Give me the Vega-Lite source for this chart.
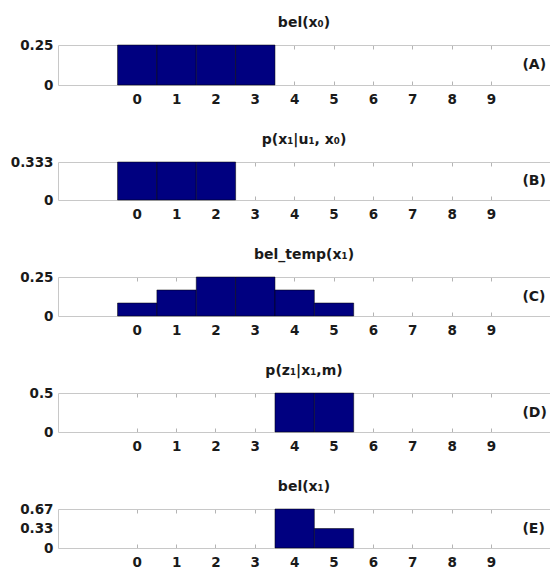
{
  "$schema": "https://vega.github.io/schema/vega-lite/v6.json",
  "padding": {"left": 0, "top": 16, "right": 0, "bottom": 0},
  "autosize": {"type": "pad"},
  "background": "white",
  "config": {
    "view": {"stroke": null},
    "font": "DejaVu Sans",
    "axis": {"domainColor": "#c8c8c8", "tickColor": "#b4b4b4", "labelColor": "#1a1a1a", "labelFont": "DejaVu Sans", "labelFontSize": 13.5, "labelFontWeight": "bold", "grid": false, "title": null, "labelOverlap": false},
    "title": {"font": "DejaVu Sans", "fontSize": 14, "fontWeight": "bold", "color": "#1a1a1a", "offset": 8},
    "bar": {"binSpacing": 0},
    "concat": {"spacing": 22}
  },
  "datasets": {
    "A": [{"x": 0, "p": 0.25}, {"x": 1, "p": 0.25}, {"x": 2, "p": 0.25}, {"x": 3, "p": 0.25}],
    "B": [{"x": 0, "p": 0.3333}, {"x": 1, "p": 0.3333}, {"x": 2, "p": 0.3333}],
    "C": [{"x": 0, "p": 0.0833}, {"x": 1, "p": 0.1667}, {"x": 2, "p": 0.25}, {"x": 3, "p": 0.25}, {"x": 4, "p": 0.1667}, {"x": 5, "p": 0.0833}],
    "D": [{"x": 4, "p": 0.5}, {"x": 5, "p": 0.5}],
    "E": [{"x": 4, "p": 0.6667}, {"x": 5, "p": 0.3333}]
  },
  "vconcat": [
    {
      "title": "bel(x₀)",
      "width": 492, "height": 40,
      "resolve": {"axis": {"x": "independent", "y": "independent"}},
      "layer": [
        {
          "data": {"name": "A"},
          "mark": {"type": "bar", "color": "#000080", "stroke": "#000000", "strokeWidth": 0.5, "binSpacing": 0},
          "encoding": {
            "x": {"field": "x", "bin": {"extent": [-0.5, 9.5], "step": 1, "nice": false}, "type": "quantitative", "scale": {"domain": [-2, 10.5], "nice": false, "zero": false}, "axis": {"values": [0,1,2,3,4,5,6,7,8,9], "format": "d", "tickSize": -4, "labelPadding": 11, "minExtent": 26, "maxExtent": 26}},
            "y": {"field": "p", "aggregate": "sum", "type": "quantitative", "scale": {"domain": [0, 0.25], "nice": false}, "axis": {"values": [0, 0.25], "format": ".2~f", "ticks": false, "labelPadding": 5, "minExtent": 58, "maxExtent": 58}}
          }
        },
        {
          "data": {"values": [{"label": "(A)", "lx": 9.8, "ly": 0.125}]},
          "mark": {"type": "text", "align": "left", "baseline": "middle", "fontSize": 14, "fontWeight": "bold", "color": "#1a1a1a"},
          "encoding": {
            "x": {"field": "lx", "type": "quantitative", "axis": {"orient": "top", "values": [0,1,2,3,4,5,6,7,8,9], "labels": false, "tickSize": -4, "minExtent": 0, "maxExtent": 0}},
            "y": {"field": "ly", "type": "quantitative", "axis": null},
            "text": {"field": "label"}
          }
        }
      ]
    },
    {
      "title": "p(x₁|u₁, x₀)",
      "width": 492, "height": 38,
      "resolve": {"axis": {"x": "independent", "y": "independent"}},
      "layer": [
        {
          "data": {"name": "B"},
          "mark": {"type": "bar", "color": "#000080", "stroke": "#000000", "strokeWidth": 0.5, "binSpacing": 0},
          "encoding": {
            "x": {"field": "x", "bin": {"extent": [-0.5, 9.5], "step": 1, "nice": false}, "type": "quantitative", "scale": {"domain": [-2, 10.5], "nice": false, "zero": false}, "axis": {"values": [0,1,2,3,4,5,6,7,8,9], "format": "d", "tickSize": -4, "labelPadding": 11, "minExtent": 26, "maxExtent": 26}},
            "y": {"field": "p", "aggregate": "sum", "type": "quantitative", "scale": {"domain": [0, 0.3333], "nice": false}, "axis": {"values": [0, 0.3333], "format": ".3~f", "ticks": false, "labelPadding": 5, "minExtent": 58, "maxExtent": 58}}
          }
        },
        {
          "data": {"values": [{"label": "(B)", "lx": 9.8, "ly": 0.1667}]},
          "mark": {"type": "text", "align": "left", "baseline": "middle", "fontSize": 14, "fontWeight": "bold", "color": "#1a1a1a"},
          "encoding": {
            "x": {"field": "lx", "type": "quantitative", "axis": {"orient": "top", "values": [0,1,2,3,4,5,6,7,8,9], "labels": false, "tickSize": -4, "minExtent": 0, "maxExtent": 0}},
            "y": {"field": "ly", "type": "quantitative", "axis": null},
            "text": {"field": "label"}
          }
        }
      ]
    },
    {
      "title": "bel_temp(x₁)",
      "width": 492, "height": 39,
      "resolve": {"axis": {"x": "independent", "y": "independent"}},
      "layer": [
        {
          "data": {"name": "C"},
          "mark": {"type": "bar", "color": "#000080", "stroke": "#000000", "strokeWidth": 0.5, "binSpacing": 0},
          "encoding": {
            "x": {"field": "x", "bin": {"extent": [-0.5, 9.5], "step": 1, "nice": false}, "type": "quantitative", "scale": {"domain": [-2, 10.5], "nice": false, "zero": false}, "axis": {"values": [0,1,2,3,4,5,6,7,8,9], "format": "d", "tickSize": -4, "labelPadding": 11, "minExtent": 26, "maxExtent": 26}},
            "y": {"field": "p", "aggregate": "sum", "type": "quantitative", "scale": {"domain": [0, 0.25], "nice": false}, "axis": {"values": [0, 0.25], "format": ".2~f", "ticks": false, "labelPadding": 5, "minExtent": 58, "maxExtent": 58}}
          }
        },
        {
          "data": {"values": [{"label": "(C)", "lx": 9.8, "ly": 0.125}]},
          "mark": {"type": "text", "align": "left", "baseline": "middle", "fontSize": 14, "fontWeight": "bold", "color": "#1a1a1a"},
          "encoding": {
            "x": {"field": "lx", "type": "quantitative", "axis": {"orient": "top", "values": [0,1,2,3,4,5,6,7,8,9], "labels": false, "tickSize": -4, "minExtent": 0, "maxExtent": 0}},
            "y": {"field": "ly", "type": "quantitative", "axis": null},
            "text": {"field": "label"}
          }
        }
      ]
    },
    {
      "title": "p(z₁|x₁,m)",
      "width": 492, "height": 39,
      "resolve": {"axis": {"x": "independent", "y": "independent"}},
      "layer": [
        {
          "data": {"name": "D"},
          "mark": {"type": "bar", "color": "#000080", "stroke": "#000000", "strokeWidth": 0.5, "binSpacing": 0},
          "encoding": {
            "x": {"field": "x", "bin": {"extent": [-0.5, 9.5], "step": 1, "nice": false}, "type": "quantitative", "scale": {"domain": [-2, 10.5], "nice": false, "zero": false}, "axis": {"values": [0,1,2,3,4,5,6,7,8,9], "format": "d", "tickSize": -4, "labelPadding": 11, "minExtent": 26, "maxExtent": 26}},
            "y": {"field": "p", "aggregate": "sum", "type": "quantitative", "scale": {"domain": [0, 0.5], "nice": false}, "axis": {"values": [0, 0.5], "format": ".1~f", "ticks": false, "labelPadding": 5, "minExtent": 58, "maxExtent": 58}}
          }
        },
        {
          "data": {"values": [{"label": "(D)", "lx": 9.8, "ly": 0.25}]},
          "mark": {"type": "text", "align": "left", "baseline": "middle", "fontSize": 14, "fontWeight": "bold", "color": "#1a1a1a"},
          "encoding": {
            "x": {"field": "lx", "type": "quantitative", "axis": {"orient": "top", "values": [0,1,2,3,4,5,6,7,8,9], "labels": false, "tickSize": -4, "minExtent": 0, "maxExtent": 0}},
            "y": {"field": "ly", "type": "quantitative", "axis": null},
            "text": {"field": "label"}
          }
        }
      ]
    },
    {
      "title": "bel(x₁)",
      "width": 492, "height": 39,
      "resolve": {"axis": {"x": "independent", "y": "independent"}},
      "layer": [
        {
          "data": {"name": "E"},
          "mark": {"type": "bar", "color": "#000080", "stroke": "#000000", "strokeWidth": 0.5, "binSpacing": 0},
          "encoding": {
            "x": {"field": "x", "bin": {"extent": [-0.5, 9.5], "step": 1, "nice": false}, "type": "quantitative", "scale": {"domain": [-2, 10.5], "nice": false, "zero": false}, "axis": {"values": [0,1,2,3,4,5,6,7,8,9], "format": "d", "tickSize": -4, "labelPadding": 11, "minExtent": 26, "maxExtent": 26}},
            "y": {"field": "p", "aggregate": "sum", "type": "quantitative", "scale": {"domain": [0, 0.6667], "nice": false}, "axis": {"values": [0, 0.3333, 0.6667], "format": ".2~f", "ticks": false, "labelPadding": 5, "labelOverlap": false, "minExtent": 58, "maxExtent": 58}}
          }
        },
        {
          "data": {"values": [{"label": "(E)", "lx": 9.8, "ly": 0.3333}]},
          "mark": {"type": "text", "align": "left", "baseline": "middle", "fontSize": 14, "fontWeight": "bold", "color": "#1a1a1a"},
          "encoding": {
            "x": {"field": "lx", "type": "quantitative", "axis": {"orient": "top", "values": [0,1,2,3,4,5,6,7,8,9], "labels": false, "tickSize": -4, "minExtent": 0, "maxExtent": 0}},
            "y": {"field": "ly", "type": "quantitative", "axis": null},
            "text": {"field": "label"}
          }
        }
      ]
    }
  ]
}
